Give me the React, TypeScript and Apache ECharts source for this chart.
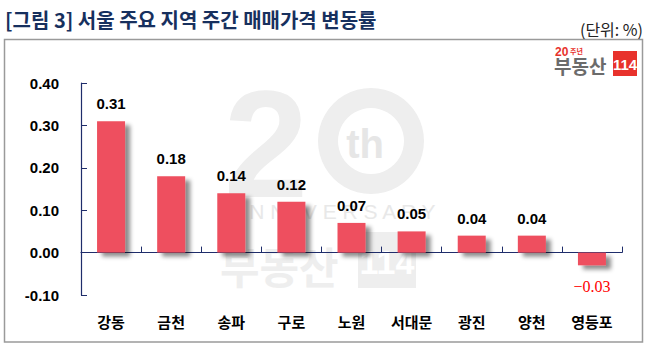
import React, { useEffect, useRef } from "react";
import * as echarts from "echarts";

const categories = ["강동", "금천", "송파", "구로", "노원", "서대문", "광진", "양천", "영등포"];
const values = [0.31, 0.18, 0.14, 0.12, 0.07, 0.05, 0.04, 0.04, -0.03];
const yTicks = [-0.1, 0, 0.1, 0.2, 0.3, 0.4];
const titleText = "[그림 3] 서울 주요 지역 주간 매매가격 변동률";
const unitText = "(단위: %)";

const KR = "'Noto Sans CJK KR', 'Noto Sans', sans-serif";
const LAT = "'Liberation Sans', Arial, sans-serif";

export default function App() {
  const ref = useRef<HTMLDivElement>(null);
  useEffect(() => {
    const chart = echarts.init(ref.current!, null, { renderer: "svg" });
    const navy = "#1f2d6b";
    const wm = "#eeeeee";
    const fmt = (v: number) => (v < 0 ? "\u2212" + Math.abs(v).toFixed(2) : v.toFixed(2));
    const option = {
      animation: false,
      backgroundColor: "#ffffff",
      grid: { left: 81, right: 34, top: 83, bottom: 67, containLabel: false },
      xAxis: [
        {
          type: "category",
          data: categories,
          position: "top",
          axisLine: { show: true, onZero: true, lineStyle: { color: navy, width: 1.2 } },
          axisTick: { show: true, length: 6, lineStyle: { color: navy, width: 1 } },
          axisLabel: { show: false },
          splitLine: { show: false },
        },
        {
          type: "category",
          data: categories,
          position: "bottom",
          axisLine: { show: false, onZero: false },
          axisTick: { show: false },
          axisLabel: {
            margin: 19,
            fontSize: 15,
            fontWeight: "bold",
            color: "#000",
            fontFamily: KR,
          },
          splitLine: { show: false },
        },
      ],
      yAxis: {
        type: "value",
        min: yTicks[0],
        max: yTicks[yTicks.length - 1],
        interval: 0.1,
        axisLine: { show: true, onZero: false, lineStyle: { color: navy, width: 1.2 } },
        axisTick: { show: true, inside: true, length: 6, lineStyle: { color: navy, width: 1 } },
        splitLine: { show: false },
        axisLabel: {
          margin: 22,
          fontSize: 15,
          fontWeight: "bold",
          color: "#000",
          fontFamily: LAT,
          formatter: (v: number) => fmt(v).replace("\u2212", "-"),
        },
      },
      series: [
        {
          type: "bar",
          xAxisIndex: 0,
          barWidth: 28,
          z: 5,
          data: values.map((v) =>
            v < 0
              ? {
                  value: v,
                  label: {
                    position: "bottom",
                    distance: 13,
                    color: "#ff0000",
                    fontWeight: "normal",
                    fontFamily: "'Liberation Serif', serif",
                    fontSize: 16,
                  },
                }
              : { value: v }
          ),
          itemStyle: {
            color: "#ee4f5e",
            shadowColor: "rgba(0,0,0,0.45)",
            shadowBlur: 4,
            shadowOffsetX: 5,
            shadowOffsetY: 4,
          },
          label: {
            show: true,
            position: "top",
            distance: 10,
            fontSize: 15,
            fontWeight: "bold",
            color: "#000",
            fontFamily: LAT,
            formatter: (p: any) => fmt(p.value),
          },
        },
      ],
      graphic: {
        elements: [
          // watermark
          {
            type: "text",
            x: 266,
            y: 144,
            z: 0,
            silent: true,
            style: { text: "2", fill: wm, font: `bold 152px ${LAT}`, align: "center", verticalAlign: "middle" },
          },
          {
            type: "ring",
            z: 0,
            silent: true,
            shape: { cx: 371, cy: 141, r: 53, r0: 33 },
            style: { fill: wm },
          },
          {
            type: "text",
            x: 365,
            y: 144,
            z: 0,
            silent: true,
            style: { text: "th", fill: "#e6e6e6", font: `bold 40px ${LAT}`, align: "center", verticalAlign: "middle" },
          },
          {
            type: "text",
            x: 333,
            y: 211,
            z: 0,
            silent: true,
            style: { text: "A N N I V E R S A R Y", fill: "#e8e8e8", font: `21px ${LAT}`, align: "center", verticalAlign: "middle" },
          },
          {
            type: "text",
            x: 220,
            y: 265,
            z: 0,
            silent: true,
            style: { text: "부동산", fill: wm, font: `bold 43px ${KR}`, align: "left", verticalAlign: "middle" },
          },
          {
            type: "rect",
            z: 0,
            silent: true,
            shape: { x: 358, y: 232, width: 58, height: 56 },
            style: { fill: wm },
          },
          {
            type: "text",
            x: 387,
            y: 262,
            z: 0,
            silent: true,
            style: { text: "114", fill: "#ffffff", font: `bold 34px ${LAT}`, align: "center", verticalAlign: "middle" },
          },
          // frame
          {
            type: "rect",
            z: 1,
            silent: true,
            shape: { x: 4.5, y: 39.5, width: 638, height: 302.5 },
            style: { fill: "none", stroke: "#9a9a9a", lineWidth: 1.5 },
          },
          // title
          {
            type: "text",
            x: 5,
            y: 19,
            z: 10,
            style: { text: titleText, fill: "#17305e", font: `bold 20px ${KR}`, align: "left", verticalAlign: "middle" },
          },
          {
            type: "text",
            x: 643,
            y: 29,
            z: 10,
            style: { text: unitText, fill: "#222222", font: `16px ${KR}`, align: "right", verticalAlign: "middle" },
          },
          // logo
          {
            type: "text",
            x: 555,
            y: 52,
            z: 10,
            style: { text: "20", fill: "#e8322c", font: `bold 12px ${LAT}`, align: "left", verticalAlign: "middle" },
          },
          {
            type: "text",
            x: 570,
            y: 51,
            z: 10,
            style: { text: "주년", fill: "#e8322c", font: `bold 7px ${KR}`, align: "left", verticalAlign: "middle" },
          },
          {
            type: "text",
            x: 554,
            y: 65,
            z: 10,
            style: { text: "부동산", fill: "#6b6b6b", font: `bold 19px ${KR}`, align: "left", verticalAlign: "middle" },
          },
          {
            type: "rect",
            z: 10,
            shape: { x: 613, y: 51, width: 24, height: 25 },
            style: { fill: "#e8322c" },
          },
          {
            type: "text",
            x: 625,
            y: 64,
            z: 11,
            style: { text: "114", fill: "#ffffff", font: `bold 15px 'Liberation Sans Narrow', ${LAT}`, align: "center", verticalAlign: "middle" },
          },
        ],
      },
    };
    chart.setOption(option as any);
    return () => chart.dispose();
  }, []);
  return (
    <div
      ref={ref}
      style={{ position: "fixed", left: 0, top: 0, width: 656, height: 362, background: "#fff" }}
    />
  );
}
